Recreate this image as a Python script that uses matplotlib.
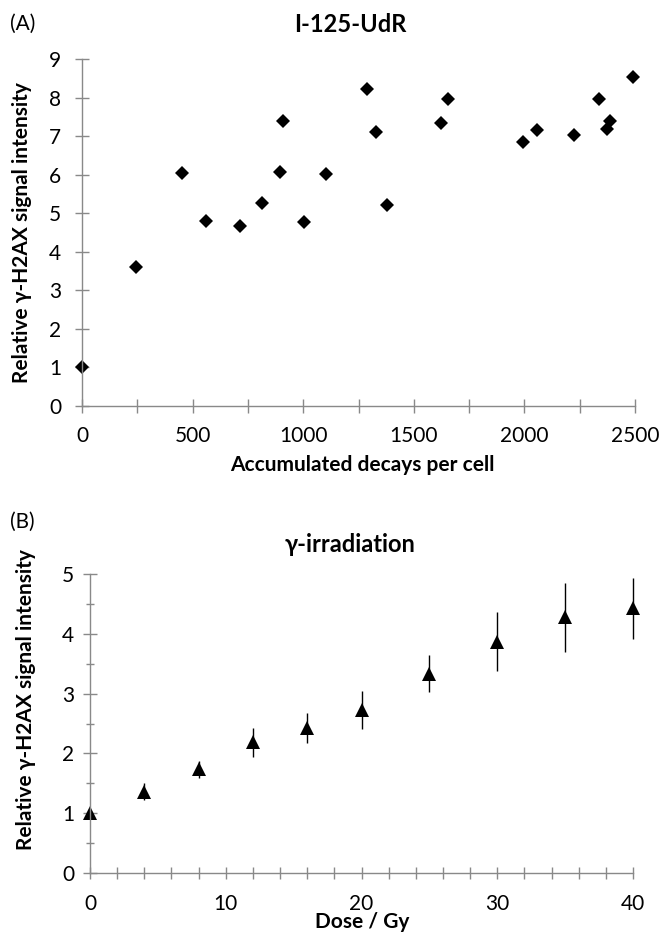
import matplotlib.pyplot as plt
import numpy as np

plt.rcParams['font.family'] = ['Lato', 'DejaVu Sans']

# panel A: I-125-UdR
decays = [0, 243, 451, 561, 716, 815, 894, 910, 1002, 1105, 1290, 1329, 1377,
          1621, 1655, 1992, 2057, 2224, 2337, 2374, 2385, 2491]
signal_a = [1.0, 3.60, 6.05, 4.79, 4.67, 5.26, 6.08, 7.38, 4.76, 6.01, 8.22, 7.11, 5.22,
            7.35, 7.97, 6.84, 7.16, 7.04, 7.97, 7.18, 7.40, 8.53]

# panel B: gamma irradiation
dose = [0, 4, 8, 12, 16, 20, 25, 30, 35, 40]
signal_b = [1.0, 1.36, 1.735, 2.185, 2.425, 2.72, 3.335, 3.865, 4.275, 4.425]
err_b = [0.03, 0.14, 0.145, 0.245, 0.255, 0.32, 0.315, 0.495, 0.575, 0.505]

W, H = 661, 935
fig = plt.figure(figsize=(W / 100, H / 100), dpi=100)

axis_grey = "#898989"
tick_fs = 15
lab_fs = 15
title_fs = 17


def px_rect(x0, x1, ytop, ybot):
    return [x0 / W, 1 - ybot / H, (x1 - x0) / W, (ybot - ytop) / H]


def style(ax):
    for s in ["top", "right"]:
        ax.spines[s].set_visible(False)
    for s in ["left", "bottom"]:
        ax.spines[s].set_color(axis_grey)
        ax.spines[s].set_linewidth(1.0)


ax1 = fig.add_axes(px_rect(82, 635, 59, 406))
ax1.plot(decays, signal_a, "D", color="black", ms=7, mew=0, clip_on=False)
ax1.set_xlim(0, 2500)
ax1.set_ylim(0, 9)
ax1.set_xticks(np.arange(0, 2501, 500))
ax1.set_xticks(np.arange(0, 2501, 250), minor=True)
ax1.set_yticks(np.arange(0, 10, 1))
style(ax1)
ax1.tick_params(axis="x", which="both", direction="inout", length=9.5, width=1,
                color=axis_grey, labelsize=tick_fs, pad=10)
ax1.tick_params(axis="y", which="both", direction="inout", length=10, width=1,
                color=axis_grey, labelsize=tick_fs, pad=10)

ax2 = fig.add_axes(px_rect(90, 633, 574, 873))
ax2.errorbar(dose, signal_b, yerr=err_b, fmt="^", color="black", ms=10.5, mew=0,
             ecolor="black", elinewidth=1, capsize=2, capthick=1, clip_on=False)
ax2.set_xlim(0, 40)
ax2.set_ylim(0, 5)
ax2.set_xticks(np.arange(0, 41, 10))
ax2.set_xticks(np.arange(0, 41, 2), minor=True)
ax2.set_yticks(np.arange(0, 6, 1))
ax2.set_yticks(np.arange(0, 5.1, 0.5), minor=True)
style(ax2)
ax2.tick_params(axis="x", which="both", direction="inout", length=8, width=1,
                color=axis_grey, labelsize=tick_fs, pad=11)
ax2.tick_params(axis="y", which="major", direction="inout", length=10, width=1,
                color=axis_grey, labelsize=tick_fs, pad=6.5)
ax2.tick_params(axis="y", which="minor", direction="inout", length=5.5, width=1,
                color=axis_grey)

# texts
fig.text(10 / W, 1 - 24 / H, "(A)", fontsize=15, ha="left", va="center")
fig.text(350 / W, 1 - 25 / H, "I-125-UdR", fontsize=title_fs, fontweight="bold",
         ha="center", va="center")
fig.text(22 / W, 1 - 233 / H, "Relative γ-H2AX signal intensity", fontsize=lab_fs,
         fontweight="bold", rotation=90, ha="center", va="center")
fig.text(362 / W, 1 - 465 / H, "Accumulated decays per cell", fontsize=lab_fs,
         fontweight="bold", ha="center", va="center")

fig.text(10 / W, 1 - 522 / H, "(B)", fontsize=15, ha="left", va="center")
fig.text(350 / W, 1 - 545 / H, "γ-irradiation", fontsize=title_fs, fontweight="bold",
         ha="center", va="center")
fig.text(26 / W, 1 - 700 / H, "Relative γ-H2AX signal intensity", fontsize=lab_fs,
         fontweight="bold", rotation=90, ha="center", va="center")
fig.text(362 / W, 1 - 922 / H, "Dose / Gy", fontsize=lab_fs,
         fontweight="bold", ha="center", va="center")

fig.savefig("out.png", dpi=100)
